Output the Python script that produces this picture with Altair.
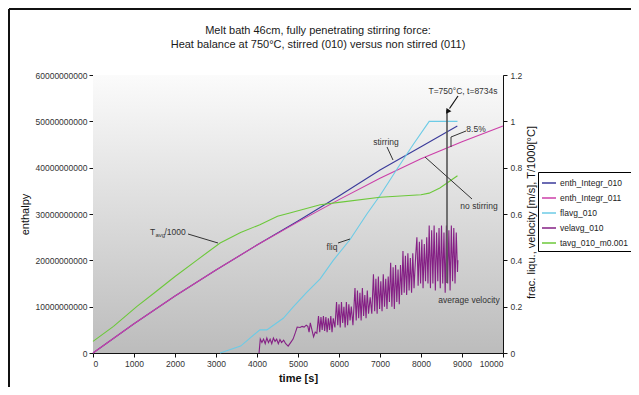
import altair as alt
import pandas as pd

# ---------------- data ----------------
series_names = ["enth_Integr_010", "enth_Integr_011", "flavg_010", "velavg_010", "tavg_010_m0.001"]
series_colors = ["#3a3a9a", "#cc3fa8", "#6ccbe6", "#852085", "#6cc83a"]

# enthalpy series (left axis, units of 1e10)
t_enth011 = [0, 1000, 2000, 3000, 4000, 5000, 6000, 7000, 8000, 9000, 10000]
e_enth011 = [0, 0.63, 1.23, 1.79, 2.33, 2.83, 3.31, 3.77, 4.19, 4.56, 4.90]

t_enth010 = [0, 1000, 2000, 3000, 4000, 5000, 6000, 7000, 8000, 8886]
e_enth010 = [0, 0.63, 1.23, 1.79, 2.33, 2.85, 3.39, 3.95, 4.45, 4.90]

# liquid fraction (right axis)
t_flavg = [3100, 3600, 4070, 4240, 4640, 4890, 5200, 5540, 5860, 6270, 6680, 7000, 7400, 7810, 8200, 8890]
v_flavg = [0.0, 0.03, 0.10, 0.10, 0.15, 0.20, 0.26, 0.32, 0.40, 0.49, 0.60, 0.68, 0.79, 0.90, 1.0, 1.0]

# average temperature / 1000 (right axis)
t_tavg = [0, 500, 1065, 1500, 2000, 2528, 3100, 3600, 4070, 4500, 4800, 5540, 6000, 7000, 8000, 8200, 8460, 8890]
v_tavg = [0.05, 0.115, 0.20, 0.26, 0.33, 0.40, 0.475, 0.52, 0.554, 0.59, 0.604, 0.64, 0.65, 0.672, 0.683, 0.69, 0.712, 0.765]

# average velocity (right axis)
t_vel = [4050, 4080, 4120, 4160, 4200, 4240, 4280, 4320, 4360, 4400, 4440, 4480, 4520, 4560, 4600, 4650,
         4700, 4760, 4820, 4880, 4940, 4980, 5050, 5100, 5150, 5200, 5240, 5270, 5300, 5340, 5380, 5420,
         5460, 5500, 5530, 5560, 5590, 5620, 5650, 5680, 5710, 5740, 5770, 5800, 5830, 5860, 5900,
         5940, 5970, 6000, 6030, 6060, 6090, 6120, 6150, 6180, 6210, 6240, 6270, 6300, 6340,
         6390, 6420, 6450, 6480, 6510, 6540, 6570, 6600, 6630, 6660, 6690, 6720, 6760, 6800,
         6840, 6870, 6900, 6930, 6960, 6990, 7020, 7050, 7080, 7110, 7140, 7170, 7200, 7230,
         7260, 7290, 7320, 7350, 7380, 7410, 7440, 7470, 7500, 7530,
         7560, 7590, 7620, 7650, 7680, 7710, 7740, 7770, 7800, 7830, 7870,
         7900, 7930, 7960, 7990, 8020, 8050, 8080, 8110, 8140, 8170,
         8200, 8230, 8260, 8290, 8320, 8350, 8380, 8410, 8440, 8470, 8500, 8530, 8560, 8590,
         8620, 8650, 8680, 8710, 8740, 8770, 8800, 8830, 8860, 8890, 8900]
v_vel = [0.0, 0.06, 0.045, 0.06, 0.04, 0.065, 0.045, 0.06, 0.04, 0.065, 0.05, 0.06, 0.04, 0.058, 0.045, 0.055,
         0.04, 0.03, 0.045, 0.06, 0.09, 0.112, 0.11, 0.115, 0.112, 0.12, 0.115, 0.09, 0.13, 0.10, 0.07, 0.09,
         0.085, 0.16, 0.09, 0.155, 0.10, 0.16, 0.095, 0.155, 0.09, 0.15, 0.10, 0.16, 0.09, 0.15, 0.11,
         0.22, 0.12, 0.21, 0.11, 0.22, 0.13, 0.20, 0.11, 0.22, 0.12, 0.21, 0.14, 0.20, 0.12,
         0.28, 0.14, 0.27, 0.15, 0.26, 0.14, 0.28, 0.16, 0.25, 0.15, 0.27, 0.17, 0.24, 0.17,
         0.34, 0.18, 0.32, 0.17, 0.33, 0.19, 0.31, 0.18, 0.34, 0.20, 0.32, 0.19, 0.33, 0.22,
         0.39, 0.20, 0.37, 0.19, 0.38, 0.22, 0.36, 0.21, 0.38, 0.25,
         0.44, 0.26, 0.42, 0.25, 0.43, 0.27, 0.41, 0.26, 0.43, 0.28, 0.42,
         0.50, 0.29, 0.48, 0.30, 0.49, 0.28, 0.47, 0.31, 0.50, 0.30,
         0.55, 0.28, 0.53, 0.30, 0.55, 0.27, 0.52, 0.31, 0.54, 0.28, 0.55, 0.30, 0.52, 0.26,
         0.55, 0.30, 0.53, 0.27, 0.55, 0.31, 0.54, 0.30, 0.52, 0.35, 0.40]

x_ticks = [0, 1000, 2000, 3000, 4000, 5000, 6000, 7000, 8000, 9000, 10000]
left_ticks = [0, 10000000000, 20000000000, 30000000000, 40000000000, 50000000000, 60000000000]
right_ticks = [0, 0.2, 0.4, 0.6, 0.8, 1, 1.2]

title_lines = ["Melt bath 46cm, fully penetrating stirring force:",
               "Heat balance at 750°C, stirred (010) versus non stirred (011)"]

# ---------------- tables ----------------
left_rows = []
for t, e in zip(t_enth010, e_enth010):
    left_rows.append({"t": t, "E": e * 1e10, "series": series_names[0]})
for t, e in zip(t_enth011, e_enth011):
    left_rows.append({"t": t, "E": e * 1e10, "series": series_names[1]})
left_df = pd.DataFrame(left_rows)

right_rows = []
for t, v in zip(t_flavg, v_flavg):
    right_rows.append({"t": t, "v": v, "series": series_names[2]})
for t, v in zip(t_vel, v_vel):
    right_rows.append({"t": t, "v": v, "series": series_names[3]})
for t, v in zip(t_tavg, v_tavg):
    right_rows.append({"t": t, "v": v, "series": series_names[4]})
right_df = pd.DataFrame(right_rows)

one = pd.DataFrame({"a": [0]})

# ---------------- layout ----------------
W, H = 410, 278
OX, OY = 93, 75  # plot origin in page pixels
FONT = "Liberation Sans"


def px(x):
    return x - OX


def py(y):
    return y - OY


x_enc = alt.X("t:Q", scale=alt.Scale(domain=[0, 10000], nice=False, zero=False),
              axis=alt.Axis(values=x_ticks, format="d", title="time [s]", titleFontWeight="bold",
                            titlePadding=5, grid=False, tickSize=4, labelPadding=2))

color_enc = alt.Color("series:N", scale=alt.Scale(domain=series_names, range=series_colors),
                      legend=alt.Legend(title=None, orient="none", legendX=445, legendY=97,
                                        symbolType="stroke", symbolSize=196, symbolStrokeWidth=1.5,
                                        labelFontSize=8.5, labelFont=FONT, labelColor="#222",
                                        padding=3, rowPadding=2, strokeColor="black",
                                        fillColor="white", labelOffset=3, labelLimit=200))

bg = alt.Chart(one).mark_rect(
    color=alt.LinearGradient(gradient="linear",
                             stops=[alt.GradientStop(color="#fbfbfb", offset=0),
                                    alt.GradientStop(color="#bcbcbc", offset=1)],
                             x1=0, x2=0, y1=0, y2=1)
).encode(x=alt.value(0), x2=alt.value(W), y=alt.value(0), y2=alt.value(H))

left_lines = alt.Chart(left_df).mark_line(strokeWidth=1.1).encode(
    x=x_enc,
    y=alt.Y("E:Q", scale=alt.Scale(domain=[0, 6e10], nice=False),
            axis=alt.Axis(values=left_ticks, format="d", title="enthalpy", orient="left",
                          grid=True,
                          gridColor={"condition": {"test": "datum.value > 59000000000", "value": "#b5b5b5"},
                                     "value": "#1e1e1e"},
                          titleX=-68, titleY=H / 2, titleAngle=-90, titleAlign="center",
                          titleBaseline="middle", tickSize=4, labelPadding=2)),
    color=color_enc,
    order=alt.Order("t:Q"),
)

right_lines = alt.Chart(right_df).mark_line(strokeWidth=1.1).encode(
    x=x_enc,
    y=alt.Y("v:Q", scale=alt.Scale(domain=[0, 1.2], nice=False),
            axis=alt.Axis(values=right_ticks, format="~g", orient="right", grid=False,
                          title="frac. liqu., velocity [m/s], T/1000[°C]",
                          titleX=28, titleY=H / 2 - 2, titleAngle=-90, titleAlign="center",
                          titleBaseline="middle", tickSize=4, labelPadding=3)),
    color=color_enc,
    order=alt.Order("t:Q"),
)


def text(s, x, y, size=8.5, align="center", color="#333", weight="normal", baseline="middle"):
    return alt.Chart(one).mark_text(text=s, align=align, baseline=baseline, fontSize=size,
                                    font=FONT, color=color, fontWeight=weight).encode(
        x=alt.value(px(x)), y=alt.value(py(y)))


def seg(x1, y1, x2, y2, color="#333", width=1.0):
    return alt.Chart(one).mark_rule(color=color, strokeWidth=width).encode(
        x=alt.value(px(x1)), y=alt.value(py(y1)), x2=alt.value(px(x2)), y2=alt.value(py(y2)))


annotations = [
    # frame of the original picture
    seg(9, 9, 9, 400, color="#111", width=2),
    seg(9, 9, 640, 9, color="#111", width=2),
    # title
    text(title_lines[0], 318, 34, size=11, color="#1a1a1a", baseline="alphabetic"),
    text(title_lines[1], 318, 47.5, size=11, color="#1a1a1a", baseline="alphabetic"),
    # marker at end of stirred run
    seg(447, 110, 447, 283, color="#555", width=1.6),
    seg(458, 96, 449.5, 108.5, color="#111", width=1.2),
    alt.Chart(one).mark_point(shape="triangle", filled=True, size=35, angle=213, color="#111",
                              opacity=1).encode(x=alt.value(px(448)), y=alt.value(py(111))),
    text("T=750°C, t=8734s", 463, 91, size=8.5),
    # 8.5 %
    text("8.5%", 476, 129, size=8.5),
    seg(466, 131, 451, 137),
    seg(451, 137, 451, 147),
    # stirring / no stirring
    text("stirring", 386, 142, size=8.5),
    seg(387, 147, 393, 160),
    text("no stirring", 479, 206, size=8.5),
    seg(472, 199, 425, 157),
    # T avg / 1000
    text("T", 150, 232, size=8.5, align="left"),
    text("avg", 155.5, 234.5, size=6, align="left"),
    text("/1000", 164.5, 232, size=8.5, align="left"),
    seg(188, 234, 218, 243),
    # fliq
    text("fliq", 332, 247, size=8.5),
    seg(338, 243, 350, 239),
    # average velocity
    text("average velocity", 469, 300, size=8.5),
]

chart = alt.layer(bg, left_lines, right_lines, *annotations).resolve_scale(
    y="independent"
).properties(
    width=W, height=H,
    autosize=alt.AutoSizeParams(type="none"),
    padding={"left": 85, "top": 67, "right": 128, "bottom": 34},
).configure_axis(
    labelFont=FONT, titleFont=FONT, labelFontSize=8.5, titleFontSize=11,
    labelColor="#333", titleColor="#111", titleFontWeight="normal",
    domainColor="#111", tickColor="#111", domainWidth=1, tickWidth=1, gridWidth=1,
).configure_legend(
    strokeWidth=1,
).configure_view(
    strokeWidth=0,
)

chart.save("out.html", embed_options={"renderer": "svg", "actions": False})
